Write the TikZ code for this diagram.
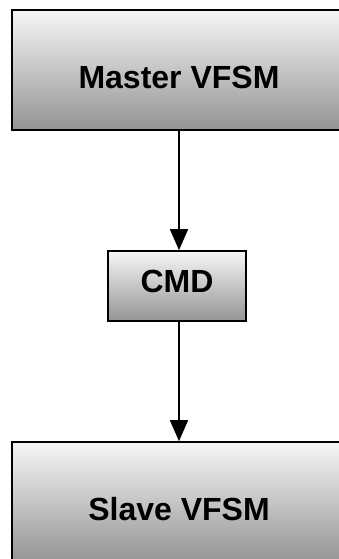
\documentclass[tikz,border=0pt]{standalone}
\usepackage{fontspec}
\setmainfont{Liberation Sans}
\usetikzlibrary{arrows.meta}
\definecolor{boxtop}{RGB}{246,246,246}
\definecolor{boxbottom}{RGB}{148,148,148}
\tikzset{
	vfsmbox/.style={draw=black, line width=1.6pt, top color=boxtop, bottom color=boxbottom,
		inner sep=0pt, font=\fontsize{32}{38}\selectfont\bfseries},
	flowarrow/.style={line width=1.5pt, -{Triangle[width=18pt,length=21pt]}}
}
\begin{document}
\begin{tikzpicture}[x=1pt,y=1pt]
			%%%%% START %%%%%
			\useasboundingbox (0,0) rectangle (339,559);
			
			\node[vfsmbox, minimum width=334pt, minimum height=120pt, text height=38pt, text depth=0pt] (master) at (179, 489) {Master VFSM};
			\node[vfsmbox, minimum width=138pt, minimum height=70pt, text height=24pt, text depth=10pt] (cmd) at (177, 273) {CMD};
			\node[vfsmbox, minimum width=334pt, minimum height=120pt, text height=38pt, text depth=0pt] (slave) at (179, 57) {Slave VFSM};
			
			\draw[flowarrow] (master.south) -- (master.south |- cmd.north);
			\draw[flowarrow] (master.south |- cmd.south) -- (slave.north);
			%%%%% END %%%%%
\end{tikzpicture}
\end{document}
